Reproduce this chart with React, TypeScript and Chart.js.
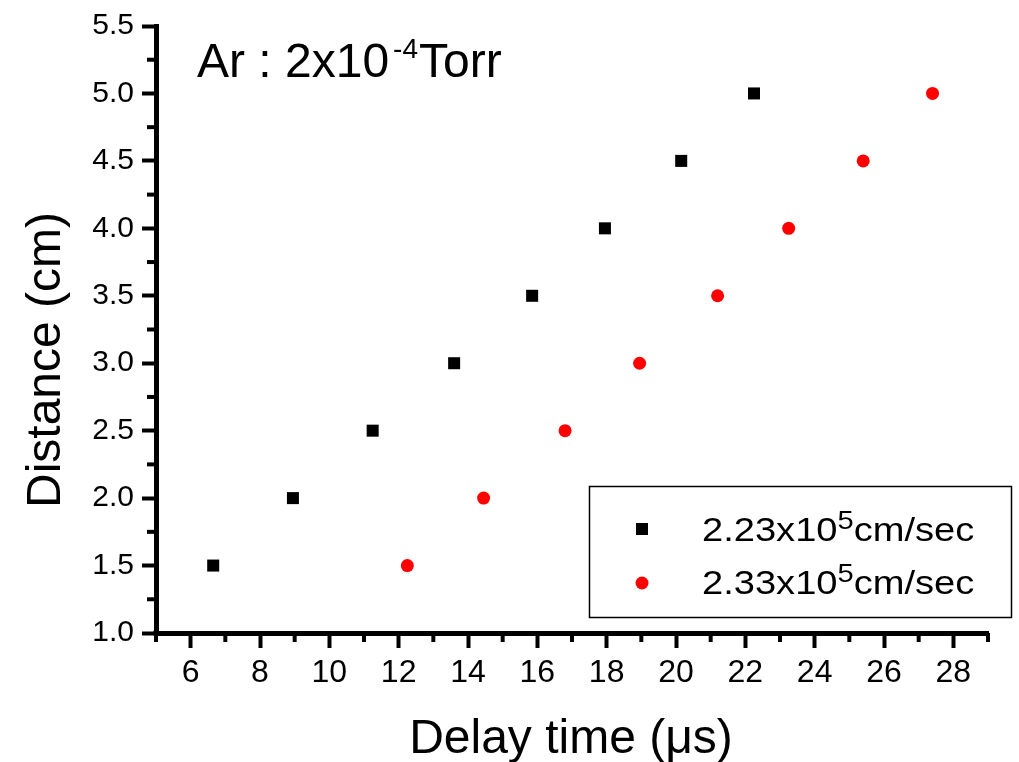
import React, { useEffect, useRef } from 'react';
import { Chart, registerables } from 'chart.js';

Chart.register(...registerables);

// ---- data ----
const delayA = [6.65, 8.95, 11.25, 13.6, 15.85, 17.95, 20.15, 22.25];
const distA = [1.5, 2.0, 2.5, 3.0, 3.5, 4.0, 4.5, 5.0];
const delayB = [12.25, 14.45, 16.8, 18.95, 21.2, 23.25, 25.4, 27.4];
const distB = [1.5, 2.0, 2.5, 3.0, 3.5, 4.0, 4.5, 5.0];

const seriesNames = ['2.23x10|5|cm/sec', '2.33x10|5|cm/sec'];
const seriesColors = ['#000000', '#ff0000'];

const xMajorTicks = [6, 8, 10, 12, 14, 16, 18, 20, 22, 24, 26, 28];
const xMinorTicks = [5, 7, 9, 11, 13, 15, 17, 19, 21, 23, 25, 27, 29];
const yMajorTicks = [1.0, 1.5, 2.0, 2.5, 3.0, 3.5, 4.0, 4.5, 5.0, 5.5];
const yMinorTicks = [1.25, 1.75, 2.25, 2.75, 3.25, 3.75, 4.25, 4.75, 5.25];

const xTitle = 'Delay time (\u03bcs)';
const yTitle = 'Distance (cm)';
const annotation = ['Ar : 2x10', '-4', 'Torr'];

const FONT = '"Liberation Sans", Arial, sans-serif';

const decorPlugin = {
  id: 'decor',
  afterDraw(chart: any) {
    const ctx = chart.ctx as CanvasRenderingContext2D;
    const xs = chart.scales.x;
    const ys = chart.scales.y;
    ctx.save();
    // minor ticks
    ctx.strokeStyle = '#000';
    ctx.lineWidth = 4;
    ctx.lineCap = 'butt';
    const minorLen = 9;
    for (const v of xMinorTicks) {
      const px = xs.getPixelForValue(v);
      ctx.beginPath();
      ctx.moveTo(px, xs.top);
      ctx.lineTo(px, xs.top + minorLen);
      ctx.stroke();
    }
    for (const v of yMinorTicks) {
      const py = ys.getPixelForValue(v);
      ctx.beginPath();
      ctx.moveTo(ys.right, py);
      ctx.lineTo(ys.right - minorLen, py);
      ctx.stroke();
    }
    // corner fill
    ctx.fillStyle = '#000';
    ctx.fillRect(ys.right - 2.5, xs.top - 2.5, 5, 5);

    // axis titles
    ctx.fillStyle = '#000';
    ctx.font = `48px ${FONT}`;
    ctx.textAlign = 'center';
    ctx.textBaseline = 'alphabetic';
    ctx.fillText(xTitle, 571, 753);
    ctx.save();
    ctx.translate(60, 360);
    ctx.rotate(-Math.PI / 2);
    ctx.fillText(yTitle, 0, 0);
    ctx.restore();

    // annotation
    ctx.textAlign = 'left';
    ctx.font = `48px ${FONT}`;
    ctx.fillText(annotation[0], 197, 77);
    let x = 197 + ctx.measureText(annotation[0]).width + 4;
    ctx.font = `28px ${FONT}`;
    ctx.fillText(annotation[1], x, 58);
    x += ctx.measureText(annotation[1]).width + 1;
    ctx.font = `48px ${FONT}`;
    ctx.fillText(annotation[2], x, 77);

    // legend
    ctx.lineWidth = 1.5;
    ctx.strokeStyle = '#000';
    ctx.strokeRect(589.5, 486.5, 422, 131);
    const rows = [541, 594];
    const markY = [529, 583];
    seriesNames.forEach((name, i) => {
      const [a, sup, b] = name.split('|');
      ctx.fillStyle = seriesColors[i];
      if (i === 0) {
        ctx.fillRect(642 - 6, markY[i] - 6, 12, 12);
      } else {
        ctx.beginPath();
        ctx.arc(642, markY[i], 6.5, 0, Math.PI * 2);
        ctx.fill();
      }
      ctx.fillStyle = '#000';
      ctx.save();
      ctx.translate(702, rows[i]);
      ctx.scale(1.12, 1);
      ctx.font = `34px ${FONT}`;
      ctx.fillText(a, 0, 0);
      let w = ctx.measureText(a).width;
      ctx.font = `26px ${FONT}`;
      ctx.fillText(sup, w, -12);
      w += ctx.measureText(sup).width;
      ctx.font = `34px ${FONT}`;
      ctx.fillText(b, w, 0);
      ctx.restore();
    });
    ctx.restore();
  },
};

export default function App() {
  const ref = useRef<HTMLCanvasElement | null>(null);
  useEffect(() => {
    if (!ref.current) return;
    const chart = new Chart(ref.current, {
      type: 'scatter',
      data: {
        datasets: [
          {
            label: '2.23x10^5cm/sec',
            data: delayA.map((x, i) => ({ x, y: distA[i] })),
            pointStyle: 'rect',
            pointRadius: 8.5,
            pointBorderWidth: 0,
            backgroundColor: seriesColors[0],
            borderColor: seriesColors[0],
          },
          {
            label: '2.33x10^5cm/sec',
            data: delayB.map((x, i) => ({ x, y: distB[i] })),
            pointStyle: 'circle',
            pointRadius: 6.5,
            pointBorderWidth: 0,
            backgroundColor: seriesColors[1],
            borderColor: seriesColors[1],
          },
        ],
      },
      options: {
        responsive: false,
        animation: false,
        devicePixelRatio: 1,
        layout: { padding: { left: 0, top: 22, right: 31, bottom: 0 } },
        plugins: { legend: { display: false }, tooltip: { enabled: false }, title: { display: false } },
        scales: {
          x: {
            type: 'linear',
            min: 5,
            max: 29,
            afterBuildTicks: (s: any) => {
              s.ticks = xMajorTicks.map((v) => ({ value: v }));
            },
            afterFit: (s: any) => {
              s.height = 129;
            },
            grid: {
              display: true,
              drawOnChartArea: false,
              drawTicks: true,
              tickLength: 15,
              tickWidth: 4,
              tickColor: '#000',
            },
            border: { display: true, width: 5, color: '#000' },
            ticks: {
              color: '#000',
              font: { family: FONT, size: 32 },
              padding: 6,
              maxRotation: 0,
              autoSkip: false,
              callback: (v: any) => String(v),
            },
          },
          y: {
            type: 'linear',
            min: 1.0,
            max: 5.5,
            afterBuildTicks: (s: any) => {
              s.ticks = yMajorTicks.map((v) => ({ value: v }));
            },
            afterFit: (s: any) => {
              s.width = 156;
            },
            grid: {
              display: true,
              drawOnChartArea: false,
              drawTicks: true,
              tickLength: 14,
              tickWidth: 4,
              tickColor: '#000',
            },
            border: { display: true, width: 5, color: '#000' },
            ticks: {
              color: '#000',
              font: { family: FONT, size: 30 },
              padding: 8,
              autoSkip: false,
              callback: (v: any) => Number(v).toFixed(1),
            },
          },
        },
      },
      plugins: [decorPlugin],
    } as any);
    return () => chart.destroy();
  }, []);
  return (
    <div style={{ position: 'absolute', left: 0, top: 0, width: 1019, height: 762, background: '#fff' }}>
      <canvas ref={ref} width={1019} height={762} style={{ width: 1019, height: 762 }} />
    </div>
  );
}
